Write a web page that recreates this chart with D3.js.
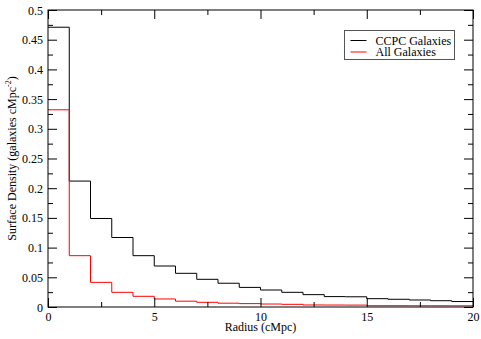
<!DOCTYPE html>
<html>
<head>
<meta charset="utf-8">
<script src="https://cdn.jsdelivr.net/npm/d3@7"></script>
<style>
  body { margin: 0; background: #fff; }
  text { font-family: "Liberation Serif", "Times New Roman", serif; font-size: 12px; fill: #000; }
</style>
</head>
<body>
<div id="chart"></div>
<script>
// One value per unit-width radial bin from 0 to 20 cMpc
const binStarts = d3.range(0, 20);
const ccpcDensity = [0.471, 0.212, 0.149, 0.117, 0.0864, 0.069, 0.0567, 0.0466, 0.040, 0.033,
                     0.0286, 0.0247, 0.0208, 0.0175, 0.0172, 0.014, 0.013, 0.0118, 0.0106, 0.0092];
const allDensity  = [0.332, 0.0864, 0.0415, 0.0247, 0.018, 0.0135, 0.0098, 0.0079, 0.0064, 0.0057,
                     0.005, 0.0045, 0.0034, 0.0033, 0.0032, 0.0022, 0.0022, 0.0021, 0.0021, 0.002];
const seriesNames = ["CCPC Galaxies", "All Galaxies"];
const seriesColors = ["#000000", "#ff0000"];
const xTicks = [0, 5, 10, 15, 20];
const yTicks = [0, 0.05, 0.1, 0.15, 0.2, 0.25, 0.3, 0.35, 0.4, 0.45, 0.5];

const width = 481, height = 339;
const margin = { top: 10, right: 8, bottom: 32, left: 48 };
const innerWidth = width - margin.left - margin.right;
const innerHeight = height - margin.top - margin.bottom;

const svg = d3.select("#chart").append("svg")
    .attr("width", width)
    .attr("height", height);

const inner = svg.append("g")
    .attr("transform", `translate(${margin.left},${margin.top})`);

const xScale = d3.scaleLinear().domain([0, 20]).range([0, innerWidth]);
const yScale = d3.scaleLinear().domain([0, 0.5]).range([innerHeight, 0]);

// step histograms
const stepLine = d3.line()
    .x(d => xScale(d[0]))
    .y(d => yScale(d[1]))
    .curve(d3.curveStepAfter);

[ccpcDensity, allDensity].forEach((vals, i) => {
    const pts = binStarts.map((b, j) => [b, vals[j]]);
    pts.push([20, vals[vals.length - 1]]);
    inner.append("path")
        .datum(pts)
        .attr("d", stepLine)
        .attr("fill", "none")
        .attr("stroke", seriesColors[i])
        .attr("stroke-width", 1);
});

/* axes: ticks inward on all four sides */
const xMinor = d3.range(0, 20.01, 2.5).filter(v => !xTicks.includes(v));
const yMinor = d3.range(0.025, 0.5, 0.05);

const axisB = d3.axisBottom(xScale).tickValues(xTicks).tickSize(-9).tickFormat(d3.format("d")).tickPadding(5);
const axisT = d3.axisTop(xScale).tickValues(xTicks).tickSize(-9).tickFormat("");
const axisL = d3.axisLeft(yScale).tickValues(yTicks).tickSize(-9).tickFormat(d => d === 0 ? "0" : String(+d.toFixed(2))).tickPadding(5);
const axisR = d3.axisRight(yScale).tickValues(yTicks).tickSize(-9).tickFormat("");

const styleAxis = g => {
    g.attr("font-family", null).attr("font-size", null);
    g.select(".domain").remove();
    g.selectAll("line").attr("stroke", "#000");
    g.selectAll("text").attr("fill", "#000");
};

inner.append("g").attr("transform", `translate(0,${innerHeight})`).call(axisB).call(styleAxis)
    .selectAll("text").attr("dy", null).attr("y", 14);
inner.append("g").call(axisT).call(styleAxis);
inner.append("g").call(axisL).call(styleAxis)
    .selectAll("text").attr("dy", null).attr("y", 4);
inner.append("g").attr("transform", `translate(${innerWidth},0)`).call(axisR).call(styleAxis);

// minor ticks
inner.append("g").attr("transform", `translate(0,${innerHeight})`)
    .call(d3.axisBottom(xScale).tickValues(xMinor).tickSize(-5).tickFormat("")).call(styleAxis);
inner.append("g")
    .call(d3.axisTop(xScale).tickValues(xMinor).tickSize(-5).tickFormat("")).call(styleAxis);
inner.append("g")
    .call(d3.axisLeft(yScale).tickValues(yMinor).tickSize(-5).tickFormat("")).call(styleAxis);
inner.append("g").attr("transform", `translate(${innerWidth},0)`)
    .call(d3.axisRight(yScale).tickValues(yMinor).tickSize(-5).tickFormat("")).call(styleAxis);

// frame
inner.append("rect")
    .attr("x", 0).attr("y", 0)
    .attr("width", innerWidth).attr("height", innerHeight)
    .attr("fill", "none")
    .attr("stroke", "#000");

// axis labels
svg.append("text")
    .attr("x", margin.left + innerWidth / 2)
    .attr("y", 331)
    .attr("text-anchor", "middle")
    .text("Radius (cMpc)");

const yLabel = svg.append("text")
    .attr("transform", "rotate(-90)")
    .attr("x", -(margin.top + innerHeight / 2))
    .attr("y", 16)
    .attr("text-anchor", "middle");
yLabel.append("tspan").text("Surface Density (galaxies cMpc");
yLabel.append("tspan").attr("dy", -5).style("font-size", "8px").text("-2");
yLabel.append("tspan").attr("dy", 5).text(")");

/* legend */
const legend = svg.append("g").attr("transform", "translate(344.5,30.5)");
legend.append("rect")
    .attr("width", 110)
    .attr("height", 29)
    .attr("fill", "#fff")
    .attr("stroke", "#555");

seriesNames.forEach((name, i) => {
    const g = legend.append("g").attr("transform", `translate(0,${10 + i * 11.5})`);
    g.append("line")
        .attr("x1", 6).attr("x2", 22)
        .attr("stroke", seriesColors[i]);
    g.append("text")
        .attr("x", 31)
        .attr("y", 4)
        .text(name);
});
</script>
</body>
</html>
